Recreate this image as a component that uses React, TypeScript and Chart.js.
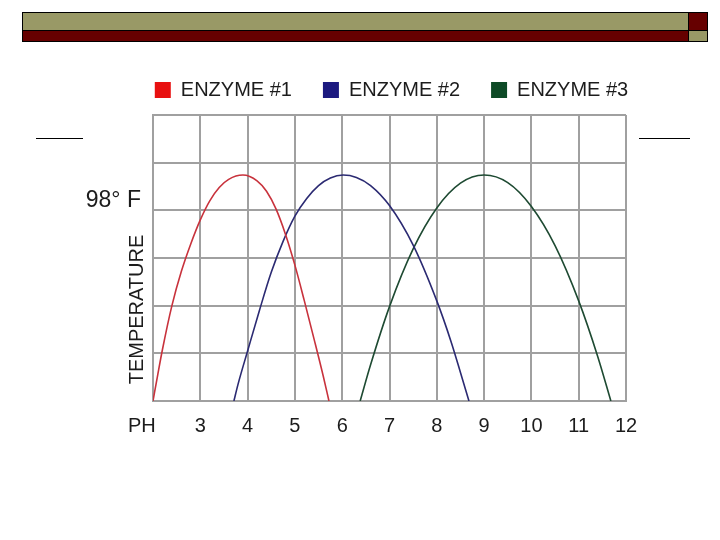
import React, { useEffect, useRef } from 'react';
import { Chart, registerables } from 'chart.js';

Chart.register(...registerables);

// ---- Data ----
const enzymeLabels = ['ENZYME #1', 'ENZYME #2', 'ENZYME #3'];

const enzyme1PH = [2.0, 2.1, 2.2, 2.4, 2.6, 2.8, 3.0, 3.2, 3.4, 3.6, 3.9, 4.2, 4.4, 4.6, 4.8, 5.0, 5.2, 5.4, 5.6, 5.72];
const enzyme1Temp = [0, 0.55, 1.08, 2.0, 2.72, 3.3, 3.8, 4.2, 4.48, 4.65, 4.74, 4.62, 4.4, 4.03, 3.5, 2.85, 2.1, 1.32, 0.52, 0];

const enzyme2PH = [3.71, 3.8, 4.0, 4.25, 4.5, 4.75, 5.0, 5.25, 5.5, 5.75, 6.02, 6.3, 6.6, 7.0, 7.5, 8.0, 8.3, 8.5, 8.68];
const enzyme2Temp = [0, 0.36, 1.05, 1.9, 2.7, 3.35, 3.88, 4.25, 4.52, 4.68, 4.74, 4.69, 4.52, 4.1, 3.27, 2.1, 1.25, 0.6, 0];

const enzyme3PH = [6.38, 6.6, 7.0, 7.5, 8.0, 8.5, 9.0, 9.5, 10.0, 10.5, 11.0, 11.4, 11.68];
const enzyme3Temp = [0, 0.76, 1.98, 3.19, 4.05, 4.57, 4.74, 4.58, 4.08, 3.26, 2.1, 0.94, 0];

const xTickLabels = ['PH    ', '3', '4', '5', '6', '7', '8', '9', '10', '11', '12'];
const yTickValues = [0, 1, 2, 3, 4, 4.2, 5, 6];
const yTickLabels = ['', '', '', '', '', '98° F', '', ''];
const yTitle = '   TEMPERATURE';

const lineColors = ['#c8323c', '#2b2a72', '#1e4a32'];
const legendColors = ['#e81010', '#1c1a80', '#0d4a26'];

const FONT = "'Liberation Sans', Arial, sans-serif";
const GRID = '#a0a0a0';
const TEXT = '#1c1c1c';

function toPoints(xs: number[], ys: number[]) {
  return xs.map((x, i) => ({ x, y: ys[i] }));
}

export default function App() {
  const canvasRef = useRef<HTMLCanvasElement | null>(null);

  useEffect(() => {
    if (!canvasRef.current) return;
    const series = [
      toPoints(enzyme1PH, enzyme1Temp),
      toPoints(enzyme2PH, enzyme2Temp),
      toPoints(enzyme3PH, enzyme3Temp),
    ];
    const chart = new Chart(canvasRef.current, {
      type: 'line',
      data: {
        datasets: series.map((pts, i) => ({
          label: enzymeLabels[i],
          data: pts,
          borderColor: lineColors[i],
          backgroundColor: legendColors[i],
          borderWidth: 1.6,
          pointRadius: 0,
          fill: false,
          cubicInterpolationMode: 'monotone' as const,
          xAxisID: 'x',
          yAxisID: 'y',
        })),
      },
      options: {
        responsive: false,
        maintainAspectRatio: false,
        animation: false,
        devicePixelRatio: 1,
        layout: { padding: { top: 49, left: 63, right: 0, bottom: 0 } },
        plugins: {
          tooltip: { enabled: false },
          legend: {
            display: true,
            position: 'top',
            align: 'center',
            labels: {
              boxWidth: 16,
              boxHeight: 16,
              padding: 31,
              color: TEXT,
              font: { family: FONT, size: 20 },
              generateLabels: (c: any) =>
                c.data.datasets.map((ds: any, i: number) => ({
                  text: ds.label,
                  fillStyle: legendColors[i],
                  strokeStyle: legendColors[i],
                  lineWidth: 0,
                  hidden: false,
                  datasetIndex: i,
                  fontColor: TEXT,
                })),
            },
          },
        },
        scales: {
          x: {
            type: 'linear',
            position: 'bottom',
            min: 2,
            max: 12,
            afterFit: (s: any) => {
              s.height = 139;
            },
            grid: { color: GRID, lineWidth: 2, drawTicks: false },
            border: { color: GRID, width: 2 },
            ticks: {
              stepSize: 1,
              autoSkip: false,
              maxRotation: 0,
              padding: 13,
              color: TEXT,
              font: { family: FONT, size: 20 },
              callback: (_v: any, i: number) => xTickLabels[i],
            },
          },
          xTop: {
            type: 'linear',
            position: 'top',
            axis: 'x',
            afterFit: (s: any) => {
              s.height = 5;
            },
            grid: { display: false, drawTicks: false },
            border: { display: false },
            ticks: { display: false },
          },
          yRight: {
            type: 'linear',
            position: 'right',
            axis: 'y',
            afterFit: (s: any) => {
              s.width = 94;
            },
            grid: { display: false, drawTicks: false },
            border: { display: false },
            ticks: { display: false },
          },
          y: {
            type: 'linear',
            position: 'left',
            min: 0,
            max: 6,
            afterFit: (s: any) => {
              s.width = 90;
            },
            afterBuildTicks: (s: any) => {
              s.ticks = yTickValues.map((v) => ({ value: v }));
            },
            grid: {
              drawTicks: false,
              lineWidth: 2,
              color: (ctx: any) =>
                ctx.tick && ctx.tick.value === 4.2 ? 'rgba(0,0,0,0)' : GRID,
            },
            border: { color: GRID, width: 2 },
            ticks: {
              padding: 12,
              color: TEXT,
              font: { family: FONT, size: 23 },
              callback: (_v: any, i: number) => yTickLabels[i],
            },
            title: {
              display: true,
              text: yTitle,
              align: 'start',
              color: TEXT,
              font: { family: FONT, size: 20 },
              padding: { top: 62, bottom: 0 },
            },
          },
        },
      },
    } as any);
    return () => chart.destroy();
  }, []);

  const box = (left: number, top: number, width: number, height: number, bg: string) => (
    <div
      style={{
        position: 'absolute',
        left,
        top,
        width,
        height,
        background: bg,
        border: '1px solid #000',
        boxSizing: 'border-box',
      }}
    />
  );

  return (
    <div style={{ position: 'absolute', left: 0, top: 0, width: 720, height: 540, background: '#fff', overflow: 'hidden' }}>
      {box(22, 12, 667, 19, '#999966')}
      {box(22, 30, 667, 12, '#660000')}
      {box(688, 12, 20, 19, '#660000')}
      {box(688, 30, 20, 12, '#999966')}
      <div style={{ position: 'absolute', left: 36, top: 138, width: 47, height: 1, background: '#000' }} />
      <div style={{ position: 'absolute', left: 639, top: 138, width: 51, height: 1, background: '#000' }} />
      <canvas
        ref={canvasRef}
        width={720}
        height={540}
        style={{ position: 'absolute', left: 0, top: 0, display: 'block' }}
      />
    </div>
  );
}
